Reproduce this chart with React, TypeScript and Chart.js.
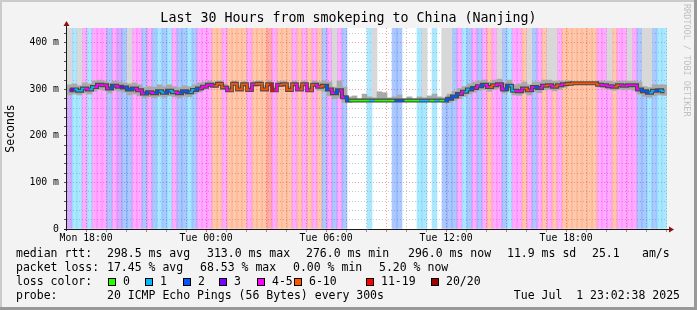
import React, { useEffect, useRef } from 'react';
import { Chart, registerables } from 'chart.js';

Chart.register(...registerables);

// ---- time frame (minutes since Mon 00:00) ----
const START = 17 * 60 + 2 + 38 / 60; // Mon 17:02:38
const SPAN = 30 * 60; // 30 hours
const BIN = 15; // minutes per bin

// ---- median rtt per 15-minute bin (ms) ----
const median = [
  298, 300, 297, 302, 300, 305, 310, 309, 302, 308,
  306, 304, 300, 302, 298, 291, 294, 292, 296, 293,
  297, 294, 292, 296, 294, 299, 302, 306, 310, 308,
  312, 304, 298, 312, 300, 311, 299, 311, 312, 300,
  311, 298, 310, 311, 299, 311, 300, 311, 298, 310,
  306, 308, 300, 292, 298, 283, 276, 276, 276, 276,
  276, 276, 276, 276, 276, 276, 276, 276, 276, 276,
  276, 276, 276, 276, 276, 276, 280, 285, 290, 295,
  300, 303, 307, 310, 305, 309, 311, 300, 308, 297,
  296, 302, 298, 305, 303, 308, 309, 306, 309, 311,
  312, 313, 313, 313, 313, 313, 310, 309, 307, 306,
  309, 308, 309, 309, 300, 296, 293, 297, 298, 296,
];

// ---- loss class per bin (index into lossColors) ----
const loss = [
  3, 1, 1, 4, 1, 4, 4, 4, 2, 4,
  3, 2, 2, 4, 4, 2, 4, 2, 1, 2,
  1, 4, 2, 2, 1, 2, 4, 4, 4, 5,
  5, 4, 5, 5, 5, 5, 4, 5, 5, 5,
  6, 4, 5, 5, 5, 4, 5, 4, 5, 4,
  5, 2, 4, 2, 4, 2, 0, 0, 0, 0,
  1, 0, 0, 0, 0, 2, 2, 0, 0, 0,
  1, 1, 0, 1, 0, 2, 2, 2, 4, 1,
  2, 4, 2, 4, 5, 4, 4, 2, 1, 4,
  4, 5, 4, 2, 4, 5, 4, 5, 4, 5,
  5, 5, 5, 5, 5, 5, 4, 4, 4, 5,
  4, 4, 4, 4, 2, 2, 1, 2, 1, 1,
];

// ---- smoke (spread of the pings per bin, ms) ----
const smokeLow = [
  288, 290, 288, 292, 290, 296, 300, 298, 292, 298,
  296, 294, 288, 290, 286, 282, 284, 282, 285, 283,
  286, 284, 282, 285, 284, 290, 294, 300, 306, 304,
  308, 300, 295, 308, 297, 307, 296, 307, 308, 297,
  307, 295, 306, 307, 296, 307, 297, 307, 295, 306,
  298, 296, 286, 280, 282, 272, 272, 273, 273, 273,
  273, 273, 273, 273, 273, 273, 273, 273, 273, 273,
  273, 273, 273, 273, 273, 272, 272, 276, 280, 285,
  290, 294, 298, 300, 296, 300, 302, 292, 298, 288,
  287, 292, 288, 295, 293, 299, 300, 297, 300, 304,
  308, 310, 310, 310, 310, 310, 305, 303, 300, 298,
  300, 299, 300, 298, 290, 285, 283, 286, 288, 287,
];
const smokeHigh = [
  310, 312, 308, 314, 312, 318, 320, 318, 314, 318,
  316, 314, 312, 314, 310, 304, 306, 305, 310, 306,
  310, 306, 304, 308, 306, 310, 314, 316, 318, 316,
  318, 312, 306, 318, 308, 317, 306, 317, 318, 308,
  318, 306, 317, 318, 306, 318, 308, 318, 306, 318,
  316, 318, 316, 305, 318, 305, 284, 286, 280, 290,
  284, 282, 295, 293, 282, 284, 288, 280, 284, 280,
  284, 282, 286, 290, 284, 282, 290, 296, 302, 306,
  312, 316, 318, 320, 316, 320, 322, 314, 320, 310,
  312, 316, 310, 316, 316, 320, 320, 318, 318, 318,
  318, 316, 316, 316, 316, 316, 318, 318, 318, 316,
  318, 318, 318, 318, 316, 306, 304, 310, 310, 310,
];
// outlier pings that reach above the top of the graph (ms), null = none
const spikeMax = [
  432, null, 432, null, null, null, null, null, null, null,
  null, null, 432, null, null, null, null, null, null, null,
  null, null, null, null, null, null, null, null, null, null,
  null, null, null, null, null, null, null, null, null, null,
  null, null, null, null, null, null, null, null, null, null,
  null, null, null, 432, null, null, null, null, null, null,
  null, 432, null, null, null, null, null, null, null, null,
  null, 432, null, null, null, 432, 432, null, null, null,
  null, null, null, null, null, null, 432, null, null, null,
  null, null, 432, null, null, null, 432, 432, null, null,
  null, null, null, null, null, null, null, null, 432, null,
  null, null, 432, null, null, 432, 432, null, null, null,
];

// ---- legend / labels ----
const lossLabels = ['0', '1', '2', '3', '4-5', '6-10', '11-19', '20/20'];
const lossColors = ['#26ff00', '#00b8ff', '#0059ff', '#7e00ff', '#ff00ff', '#ff5500', '#ff0000', '#a10000'];
const lossStripe = ['rgba(0,0,0,0)', 'rgba(0,184,255,0.33)', 'rgba(0,89,255,0.33)', 'rgba(126,0,255,0.33)', 'rgba(255,0,255,0.33)', 'rgba(255,85,0,0.33)', 'rgba(255,0,0,0.33)', 'rgba(161,0,0,0.33)'];
const lossBoxX = [108, 145, 183, 219, 257, 294, 366, 431];

const yMax = 432;
const yTicks = [0, 20, 40, 60, 80, 100, 120, 140, 160, 180, 200, 220, 240, 260, 280, 300, 320, 340, 360, 380, 400, 420];
const xLabelTimes = [1080, 1440, 1800, 2160, 2520];
const xLabelTexts = ['Mon 18:00', 'Tue 00:00', 'Tue 06:00', 'Tue 12:00', 'Tue 18:00'];

const title = 'Last 30 Hours from smokeping to China (Nanjing)';
const rttRow = [
  [16, 'median rtt:'], [107, '298.5 ms avg'], [207, '313.0 ms max'], [306, '276.0 ms min'],
  [408, '296.0 ms now'], [507, '11.9 ms sd'], [592, '25.1'], [642, 'am/s'],
];
const lossRow = [
  [16, 'packet loss:'], [107, '17.45 % avg'], [200, '68.53 % max'], [293, '0.00 % min'], [379, '5.20 % now'],
];
const probeRow = [[16, 'probe:'], [107, '20 ICMP Echo Pings (56 Bytes) every 300s']];
const dateText = 'Tue Jul  1 23:02:38 2025';

const MONO = '"DejaVu Sans Mono", monospace';

export default function App() {
  const ref = useRef<HTMLCanvasElement | null>(null);

  useEffect(() => {
    document.body.style.margin = '0';
    const canvas = ref.current!;
    const xs = median.map((_, i) => START + BIN * i + BIN / 2);
    const hourTicks: number[] = [];
    for (let h = Math.ceil(START / 60) * 60; h <= START + SPAN; h += 60) hourTicks.push(h);

    const framePlugin = {
      id: 'rrdframe',
      beforeDraw(chart: any) {
        const { ctx, chartArea: a } = chart;
        ctx.save();
        ctx.fillStyle = '#f3f3f3';
        ctx.fillRect(0, 0, 697, 310);
        ctx.fillStyle = '#cbcbcb';
        ctx.fillRect(0, 0, 697, 2);
        ctx.fillRect(0, 0, 2, 310);
        ctx.fillStyle = '#999999';
        ctx.fillRect(694, 0, 3, 310);
        ctx.fillRect(0, 307, 697, 3);
        ctx.fillStyle = '#ffffff';
        ctx.fillRect(a.left, a.top, a.right - a.left, a.bottom - a.top);
        ctx.restore();
      },
      afterDraw(chart: any) {
        const { ctx, chartArea: a } = chart;
        ctx.save();
        ctx.strokeStyle = '#1a1a1a';
        ctx.lineWidth = 1;
        ctx.beginPath();
        ctx.moveTo(a.left - 0.5, a.bottom + 2);
        ctx.lineTo(a.left - 0.5, a.top - 4);
        ctx.moveTo(a.left - 3, a.bottom + 0.5);
        ctx.lineTo(a.right + 4, a.bottom + 0.5);
        ctx.stroke();
        ctx.fillStyle = '#8b1010';
        ctx.beginPath();
        ctx.moveTo(a.left - 0.5, a.top - 7);
        ctx.lineTo(a.left - 3.5, a.top - 2);
        ctx.lineTo(a.left + 2.5, a.top - 2);
        ctx.closePath();
        ctx.fill();
        ctx.beginPath();
        ctx.moveTo(a.right + 7, a.bottom + 0.5);
        ctx.lineTo(a.right + 2, a.bottom - 2.5);
        ctx.lineTo(a.right + 2, a.bottom + 3.5);
        ctx.closePath();
        ctx.fill();

        ctx.fillStyle = '#000';
        ctx.textBaseline = 'middle';
        ctx.textAlign = 'center';
        ctx.font = `13.3px ${MONO}`;
        ctx.fillText(title, 348.5, 19);

        ctx.textAlign = 'left';
        ctx.font = `11.5px ${MONO}`;
        rttRow.forEach(([x, t]) => ctx.fillText(t as string, x as number, 254));
        lossRow.forEach(([x, t]) => ctx.fillText(t as string, x as number, 268));
        ctx.fillText('loss color:', 16, 282);
        lossLabels.forEach((lab, i) => {
          const bx = lossBoxX[i];
          ctx.fillStyle = lossColors[i];
          ctx.fillRect(bx, 278, 8, 8);
          ctx.strokeStyle = '#000';
          ctx.strokeRect(bx + 0.5, 278.5, 7, 7);
          ctx.fillStyle = '#000';
          ctx.fillText(lab, bx + 15, 282);
        });
        probeRow.forEach(([x, t]) => ctx.fillText(t as string, x as number, 296));
        ctx.textAlign = 'right';
        ctx.fillText(dateText, 680, 296);

        ctx.translate(686, 4);
        ctx.rotate(Math.PI / 2);
        ctx.textAlign = 'left';
        ctx.font = `8.5px ${MONO}`;
        ctx.fillStyle = '#c0c0c0';
        ctx.fillText('RRDTOOL / TOBI OETIKER', 0, 0);
        ctx.restore();
      },
    };

    const minorGrid = 'rgba(143,143,143,0.5)';
    const majorGrid = 'rgba(255,0,0,0.38)';
    const barCommon = { barPercentage: 1, categoryPercentage: 1, grouped: false, borderWidth: 0 };

    const chart = new Chart(canvas, {
      type: 'bar',
      data: {
        datasets: [
          {
            type: 'line',
            label: 'median',
            data: xs.map((x, i) => ({ x, y: median[i] })),
            stepped: 'middle',
            borderWidth: 1.6,
            pointRadius: 0,
            borderColor: '#000',
            segment: {
              borderColor: (c: any) => lossColors[loss[c.p0DataIndex]],
            },
            order: 0,
          } as any,
          {
            type: 'line',
            label: 'median shade',
            data: xs.map((x, i) => ({ x, y: median[i] })),
            stepped: 'middle',
            borderWidth: 4,
            pointRadius: 0,
            borderColor: 'rgba(10,10,10,0.6)',
            order: 1,
          } as any,
          {
            label: 'smoke',
            data: xs.map((x, i) => ({ x, y: [smokeLow[i], smokeHigh[i]] })),
            backgroundColor: '#a9a9a9',
            ...barCommon,
            order: 2,
          } as any,
          {
            label: 'spikes',
            data: xs.map((x, i) => ({ x, y: spikeMax[i] == null ? null : [smokeHigh[i], spikeMax[i]] })),
            backgroundColor: '#d8d8d8',
            ...barCommon,
            order: 3,
          } as any,
          {
            label: 'loss',
            data: xs.map((x) => ({ x, y: [0, yMax] })),
            backgroundColor: loss.map((c) => lossStripe[c]),
            ...barCommon,
            order: 4,
          } as any,
        ],
      },
      options: {
        responsive: false,
        animation: false,
        events: [],
        layout: { padding: { top: 28, right: 30, left: 0, bottom: 0 } },
        plugins: { legend: { display: false }, tooltip: { enabled: false }, title: { display: false } },
        scales: {
          x: {
            type: 'linear',
            min: START,
            max: START + SPAN,
            offset: false,
            afterBuildTicks: (s: any) => {
              s.ticks = hourTicks.map((v) => ({ value: v }));
            },
            afterFit: (s: any) => {
              s.height = 81;
            },
            ticks: {
              autoSkip: false,
              maxRotation: 0,
              minRotation: 0,
              padding: 1,
              color: '#000',
              font: { family: MONO, size: 9.8 },
              callback: (v: any) => {
                const k = xLabelTimes.indexOf(Math.round(Number(v)));
                return k >= 0 ? xLabelTexts[k] : '';
              },
            },
            grid: {
              color: (c: any) => (c.tick && Math.round(c.tick.value) % 180 === 0 ? majorGrid : minorGrid),
              borderDash: [1, 2],
              tickLength: 3,
              tickBorderDash: [],
              tickColor: (c: any) => (c.tick && Math.round(c.tick.value) % 180 === 0 ? '#e07070' : '#999'),
              offset: false,
            },
            border: { display: false, dash: [1, 2] },
          } as any,
          y: {
            min: 0,
            max: yMax,
            afterBuildTicks: (s: any) => {
              s.ticks = yTicks.map((v) => ({ value: v }));
            },
            afterFit: (s: any) => {
              s.width = 67;
            },
            ticks: {
              autoSkip: false,
              padding: 5,
              color: '#000',
              font: { family: MONO, size: 9.8 },
              callback: (v: any) => (v === 0 ? '0' : v % 100 === 0 ? `${v} m` : ''),
            },
            grid: {
              color: (c: any) => (c.tick && c.tick.value % 100 === 0 ? majorGrid : minorGrid),
              borderDash: [1, 2],
              tickLength: 3,
              tickBorderDash: [],
              tickColor: '#555',
            },
            border: { display: false, dash: [1, 2] },
            title: {
              display: true,
              text: 'Seconds',
              color: '#000',
              font: { family: MONO, size: 11.5 },
              padding: { top: 4, bottom: 4 },
            },
          } as any,
        },
      },
      plugins: [framePlugin],
    } as any);

    return () => chart.destroy();
  }, []);

  return (
    <div style={{ position: 'absolute', left: 0, top: 0, width: 697, height: 310 }}>
      <canvas ref={ref} width={697} height={310} style={{ width: 697, height: 310, display: 'block' }} />
    </div>
  );
}
